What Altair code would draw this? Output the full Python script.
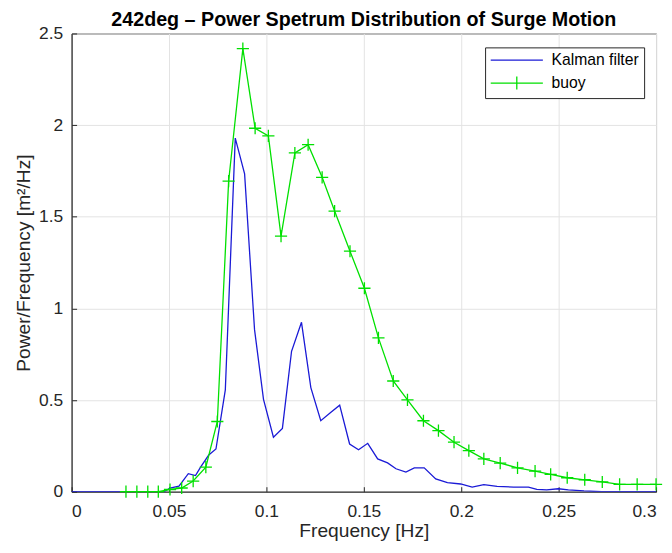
import altair as alt
import pandas as pd

# ---- data ----
kf_freq = [0.0, 0.0475, 0.0505, 0.0551, 0.0599, 0.0636, 0.0662, 0.0704, 0.0741, 0.0789,
           0.0840, 0.0888, 0.0939, 0.0985, 0.1036, 0.1082, 0.1129, 0.1180, 0.1228, 0.1279,
           0.1328, 0.1376, 0.1427, 0.1473, 0.1520, 0.1571, 0.1622, 0.1665, 0.1716, 0.1759,
           0.1810, 0.1869, 0.1929, 0.1997, 0.2056, 0.2116, 0.2184, 0.2269, 0.2345, 0.2388,
           0.2439, 0.2498, 0.2550, 0.2630, 0.2720, 0.3000]
kf_power = [0.0, 0.0, 0.02, 0.03, 0.098, 0.088, 0.134, 0.20, 0.233, 0.555,
            1.929, 1.734, 0.884, 0.504, 0.297, 0.345, 0.766, 0.924, 0.568, 0.387,
            0.43, 0.472, 0.26, 0.229, 0.264, 0.179, 0.157, 0.125, 0.107, 0.130,
            0.130, 0.07, 0.049, 0.042, 0.025, 0.038, 0.029, 0.025, 0.025, 0.012,
            0.01, 0.016, 0.01, 0.004, 0.0, 0.0]

buoy_freq = [0.0279, 0.0335, 0.0391, 0.0445, 0.0505, 0.0565, 0.0624, 0.0689, 0.0748, 0.0806,
             0.0879, 0.0942, 0.1010, 0.1075, 0.1146, 0.1214, 0.1286, 0.1350, 0.1429, 0.1503,
             0.1575, 0.1651, 0.1724, 0.1806, 0.1883, 0.1963, 0.2039, 0.2116, 0.2200, 0.2289,
             0.2379, 0.2459, 0.2544, 0.2634, 0.2724, 0.2813, 0.2903, 0.3000]
buoy_power = [0.0, 0.0, 0.0, 0.0, 0.012, 0.02, 0.058, 0.134, 0.383, 1.694,
              2.417, 1.983, 1.941, 1.394, 1.848, 1.893, 1.715, 1.531, 1.312, 1.110,
              0.839, 0.604, 0.501, 0.387, 0.333, 0.270, 0.224, 0.179, 0.156, 0.130,
              0.112, 0.094, 0.076, 0.065, 0.053, 0.040, 0.040, 0.040]

series_names = ["Kalman filter", "buoy"]
series_colors = ["#1a1ad6", "#00e000"]
legend_shapes = ["M-4,0L4,0", "M-4,0L4,0M0,-1L0,1"]
x_ticks = [0, 0.05, 0.1, 0.15, 0.2, 0.25, 0.3]
y_ticks = [0, 0.5, 1, 1.5, 2, 2.5]

df = pd.concat([
    pd.DataFrame({"freq": kf_freq, "power": kf_power, "series": series_names[0], "order": range(len(kf_freq))}),
    pd.DataFrame({"freq": buoy_freq, "power": buoy_power, "series": series_names[1], "order": range(len(buoy_freq))}),
])

FONT = "Liberation Sans"
TXT = "#262626"

x = alt.X("freq:Q", scale=alt.Scale(domain=[0, 0.3], nice=False),
          axis=alt.Axis(title="Frequency [Hz]", values=x_ticks, format="~g", grid=True))
y = alt.Y("power:Q", scale=alt.Scale(domain=[0, 2.5], nice=False),
          axis=alt.Axis(title="Power/Frequency [m²/Hz]", values=y_ticks, format="~g", grid=True))

legend = alt.Legend(
    title=None, orient="none", legendX=416, legendY=14,
    symbolSize=172, symbolStrokeWidth=1.3, symbolOffset=19,
    labelFontSize=15.8, labelFont=FONT, labelColor="#000000", labelOffset=27,
    padding=5, rowPadding=5, strokeColor="#262626", fillColor="white")

color = alt.Color("series:N", scale=alt.Scale(domain=series_names, range=series_colors), legend=legend)
shape = alt.Shape("series:N", scale=alt.Scale(domain=series_names, range=legend_shapes), legend=legend)

lines = alt.Chart(df).mark_line(strokeWidth=1.3, clip=True).encode(
    x=x, y=y, color=color, order="order:Q", detail="series:N")

pts = alt.Chart(df).transform_filter(alt.datum.series == "buoy").mark_point(
    shape="M-1,0L1,0M0,-1L0,1", size=150, filled=False, strokeWidth=1.3, color="#00e000", opacity=1
).encode(x=alt.X("freq:Q"), y=alt.Y("power:Q"))

# legend-only layer (no rows survive the filter): merges shape into the colour legend
leg = alt.Chart(df).transform_filter("false").mark_point(filled=False, strokeWidth=1.3, opacity=1).encode(
    x=alt.X("freq:Q"), y=alt.Y("power:Q"), color=color, shape=shape)

chart = alt.layer(lines, pts, leg).properties(
    width=588, height=461,
    title=alt.TitleParams("242deg – Power Spetrum Distribution of Surge Motion",
                          font=FONT, fontSize=19.8, fontWeight="bold", color="#000000",
                          anchor="middle", frame="group", baseline="alphabetic", offset=-21),
    autosize=alt.AutoSizeParams(type="none"),
    padding={"left": 64, "top": 24, "right": 8, "bottom": 50},
).configure_view(stroke="#262626", strokeWidth=1).configure_axis(
    labelFont=FONT, labelFontSize=17.5, labelColor=TXT, titleFont=FONT, titleFontSize=19.3,
    titleFontWeight="normal", titleColor=TXT, gridColor="#e3e3e3", gridWidth=1,
    domainColor="#262626", tickColor="#262626", tickSize={"expr": "-5"}, domain=True
).configure_axisX(labelPadding=16, titlePadding=2).configure_axisY(labelPadding=14, titlePadding=5)

chart.save("out.html", embed_options={"renderer": "svg", "actions": False})
